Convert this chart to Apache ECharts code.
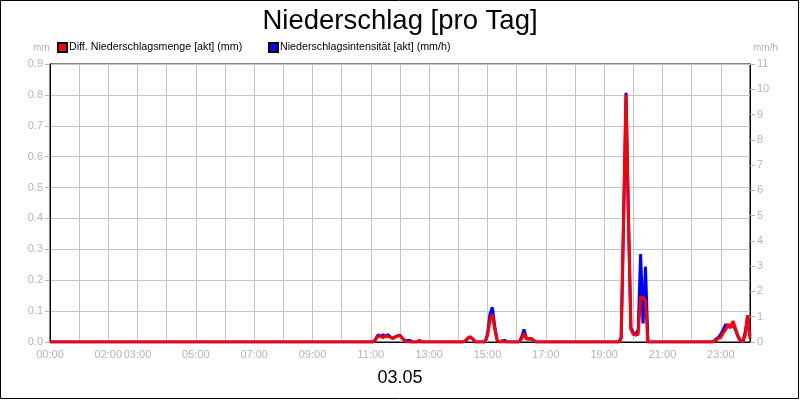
<!DOCTYPE html>
<html>
<head>
<meta charset="utf-8">
<script src="https://cdn.jsdelivr.net/npm/echarts@6/dist/echarts.min.js"></script>
<style>html,body{margin:0;padding:0;background:#fff}#c{width:800px;height:400px}</style>
</head>
<body>
<div id="c"></div>
<script>
const title = 'Niederschlag [pro Tag]';
const dateLabel = '03.05';
const seriesNames = ['Diff. Niederschlagsmenge [akt] (mm)', 'Niederschlagsintensität [akt] (mm/h)'];
const xTickLabels = ['00:00','02:00','03:00','05:00','07:00','09:00','11:00','13:00','15:00','17:00','19:00','21:00','23:00'];
const leftTicks = [0, 0.9, 0.1];
const rightTicks = [0, 11, 1];

const times = ['00:00','11:05','11:10','11:15','11:20','11:25','11:30','11:35','11:40','11:45','11:50','11:55','12:00','12:05','12:10','12:15','12:20','12:25','12:30','12:35','12:40','12:45',
'14:10','14:15','14:20','14:25','14:30','14:35','14:55','15:00','15:05','15:10','15:15','15:20','15:25','15:30','15:35','15:40','15:45',
'16:05','16:10','16:15','16:20','16:25','16:30','16:35','16:40',
'19:30','19:35','19:40','19:45','19:50','19:55','20:00','20:05','20:10','20:15','20:20','20:25','20:30','20:35',
'22:40','22:45','22:50','22:55','23:00','23:05','23:10','23:15','23:20','23:25','23:30','23:35','23:40','23:45','23:50','23:55','24:00'];

const mengeMM = [0,0,0.008,0.02,0.02,0.013,0.02,0.018,0.016,0.012,0.015,0.02,0.02,0.012,0.004,0,0,0,0,0,0.006,0,
0,0.005,0.014,0.017,0.01,0,0,0.02,0.07,0.09,0.04,0.005,0,0.005,0,0,0,
0,0.01,0.028,0.01,0.01,0.012,0.005,0,
0,0.01,0.4,0.8,0.4,0.04,0.025,0.022,0.025,0.145,0.145,0.135,0,0,
0,0,0.005,0.012,0.015,0.03,0.04,0.058,0.045,0.068,0.045,0.02,0.005,0,0.02,0.087,0.01];

const intensitaetMMH = [0,0,0.12,0.29,0.22,0.29,0.22,0.29,0.2,0.15,0.2,0.24,0.27,0.15,0.07,0.05,0.07,0,0,0,0.02,0,
0,0.05,0.15,0.18,0.12,0,0,0.31,1.1,1.37,0.61,0.06,0,0,0.07,0,0,
0,0.18,0.5,0.15,0.12,0.12,0.06,0,
0,0.18,4.9,9.86,4.9,0.55,0.37,0.31,0.49,3.48,0.73,2.98,0,0,
0,0.02,0.12,0.18,0.31,0.49,0.7,0.61,0.61,0.67,0.49,0.24,0.06,0,0.37,0.98,0.24];

function toHours(t){const p=t.split(':');return (+p[0])+(+p[1])/60;}
const xs = times.map(toHours);
const redData = xs.map((x,i)=>[x, mengeMM[i]]);
const blueData = xs.map((x,i)=>[x, intensitaetMMH[i]]);

const FONT = 'Liberation Sans, Arial, sans-serif';
const GRAY = '#b4b4b4';
const chart = echarts.init(document.getElementById('c'), null, {renderer:'canvas'});
chart.setOption({
  animation:false,
  backgroundColor:'#fff',
  title:{text:title, left:'center', top:2, textStyle:{fontFamily:FONT, fontSize:27.5, fontWeight:'normal', color:'#000'}},
  legend:[
    {data:[seriesNames[0]], left:52, top:37, icon:'rect', itemWidth:9, itemHeight:9, itemGap:0,
     textStyle:{fontFamily:FONT, fontSize:10.7, color:'#000', padding:[0,0,0,-3]}},
    {data:[seriesNames[1]], left:263, top:37, icon:'rect', itemWidth:9, itemHeight:9, itemGap:0,
     textStyle:{fontFamily:FONT, fontSize:10.7, color:'#000', padding:[0,0,0,-3]}}
  ],
  grid:{left:50, right:50, top:64, bottom:58, show:true, borderColor:'#000', borderWidth:1, backgroundColor:'#fff'},
  xAxis:{type:'value', min:0, max:24, interval:1,
    axisLine:{lineStyle:{color:'#000'}}, axisTick:{show:false},
    splitLine:{show:true, lineStyle:{color:'#c4c4c4', width:1}},
    axisLabel:{color:GRAY, fontFamily:FONT, fontSize:11, margin:7, showMinLabel:true, showMaxLabel:true,
      formatter:function(v){const s=(v<10?'0':'')+v+':00';return xTickLabels.indexOf(s)>=0?s:'';}}
  },
  yAxis:[
    {type:'value', min:leftTicks[0], max:leftTicks[1], interval:leftTicks[2], position:'left',
     axisLine:{show:true, lineStyle:{color:'#000'}}, axisTick:{show:true, length:5, lineStyle:{color:GRAY}},
     splitLine:{show:true, lineStyle:{color:'#c4c4c4'}},
     axisLabel:{color:GRAY, fontFamily:FONT, fontSize:11, margin:7, formatter:v=>v.toFixed(1)}},
    {type:'value', min:rightTicks[0], max:rightTicks[1], interval:rightTicks[2], position:'right',
     axisLine:{show:true, lineStyle:{color:'#000'}}, axisTick:{show:true, length:5, lineStyle:{color:GRAY}},
     splitLine:{show:false},
     axisLabel:{color:GRAY, fontFamily:FONT, fontSize:11, margin:7}}
  ],
  graphic:[
    {type:'rect', shape:{x:0.5, y:0.5, width:798, height:398}, style:{fill:'none', stroke:'#000', lineWidth:1}, silent:true},
    {type:'text', left:33, top:43, style:{text:'mm', fill:GRAY, font:'10px '+FONT}},
    {type:'text', left:753, top:43, style:{text:'mm/h', fill:GRAY, font:'10px '+FONT}},
    {type:'text', left:'center', top:369, style:{text:dateLabel, fill:'#000', font:'18px '+FONT}}
  ],
  series:[
    {name:seriesNames[1], type:'line', yAxisIndex:1, data:blueData, symbol:'none', color:'#0000ff',
     lineStyle:{color:'#0000ff', width:3}, itemStyle:{color:'#0000ff', borderColor:'#000', borderWidth:1}, z:2},
    {name:seriesNames[0], type:'line', yAxisIndex:0, data:redData, symbol:'none', color:'#ff0000',
     lineStyle:{color:'#ff0000', width:3}, itemStyle:{color:'#ff0000', borderColor:'#000', borderWidth:1}, z:3}
  ]
});
</script>
</body>
</html>
